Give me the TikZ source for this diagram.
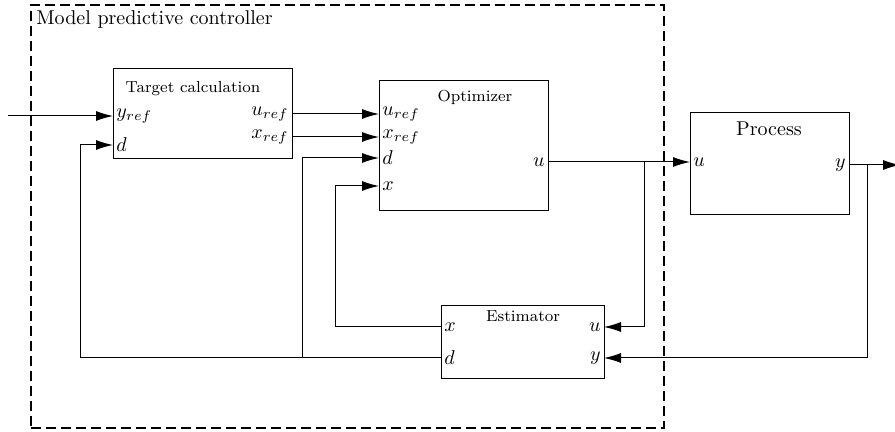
\documentclass[tikz,border=0pt]{standalone}
\usepackage{amsmath}
\usepackage{tikz}
\usetikzlibrary{arrows.meta}

\begin{document}
\begin{tikzpicture}[x=0.5pt,y=-0.5pt,
  block/.style={draw,line width=0.6pt,anchor=north west,inner sep=0pt},
  port/.style={inner sep=1.5pt},
  sig/.style={-{Latex[length=8.5pt,width=5pt]},black,line width=0.5pt}]
  \useasboundingbox (0,0) rectangle (895,432);

  % controller frame
  \node[block,line width=0.8pt,dash pattern=on 5pt off 2.5pt,minimum width=316.5pt,minimum height=211.5pt] (mpc) at (30,4) {};
  \node[anchor=north west,inner sep=3pt] (mpctitle) at (30,4) {Model predictive controller};

  % blocks
  \node[block,minimum width=89.5pt,minimum height=45pt] (tc) at (113,68) {};
  \node[font=\footnotesize] (tctitle) at (193,89) {Target calculation};
  \node[block,minimum width=84.5pt,minimum height=65pt] (op) at (379,80) {};
  \node[font=\footnotesize] (optitle) at (475,97) {Optimizer};
  \node[block,minimum width=79.5pt,minimum height=51pt] (pr) at (690,112) {};
  \node (prtitle) at (769,129) {Process};
  \node[block,minimum width=81.5pt,minimum height=36.5pt] (es) at (441,305) {};
  \node[font=\footnotesize] (estitle) at (523,316) {Estimator};

  % ports
  \node[port,anchor=west] (tcy) at (113,116) {$y_{ref}$};
  \node[port,anchor=west] (tcd) at (113,145) {$d$};
  \node[port,anchor=east] (tcu) at (292,114) {$u_{ref}$};
  \node[port,anchor=east] (tcx) at (292,137) {$x_{ref}$};
  \node[port,anchor=west] (opu) at (379,114) {$u_{ref}$};
  \node[port,anchor=west] (opx) at (379,137) {$x_{ref}$};
  \node[port,anchor=west] (opd) at (379,158) {$d$};
  \node[port,anchor=west] (opxx) at (379,186) {$x$};
  \node[port,anchor=east] (opout) at (548,162) {$u$};
  \node[port,anchor=west] (pru) at (690,162) {$u$};
  \node[port,anchor=east] (pry) at (849,165) {$y$};
  \node[port,anchor=west] (esx) at (441,327) {$x$};
  \node[port,anchor=west] (esd) at (441,358) {$d$};
  \node[port,anchor=east] (esu) at (604,327) {$u$};
  \node[port,anchor=east] (esy) at (604,358) {$y$};

  \coordinate (in) at (8,116);
  \coordinate (out) at (900,165);
  \coordinate (ubr) at (644,162);
  \coordinate (ybr) at (867,165);
  \coordinate (dbr) at (302,358);

  % signals
  \draw[sig] (in) -- (tcy.west);
  \draw[sig] (tcu.east) -- (opu.west);
  \draw[sig] (tcx.east) -- (opx.west);
  \draw[sig] (opout.east) -- (pru.west);
  \draw[sig] (pry.east) -- (out);
  \draw[sig] (ubr) |- (esu.east);
  \draw[sig] (ybr) |- (esy.east);
  \draw[sig] (esx.west) -- ++(-106,0) |- (opxx.west);
  \draw[sig] (esd.west) -- ++(-361,0) |- (tcd.west);
  \draw[sig] (dbr) |- (opd.west);
\end{tikzpicture}
\end{document}
